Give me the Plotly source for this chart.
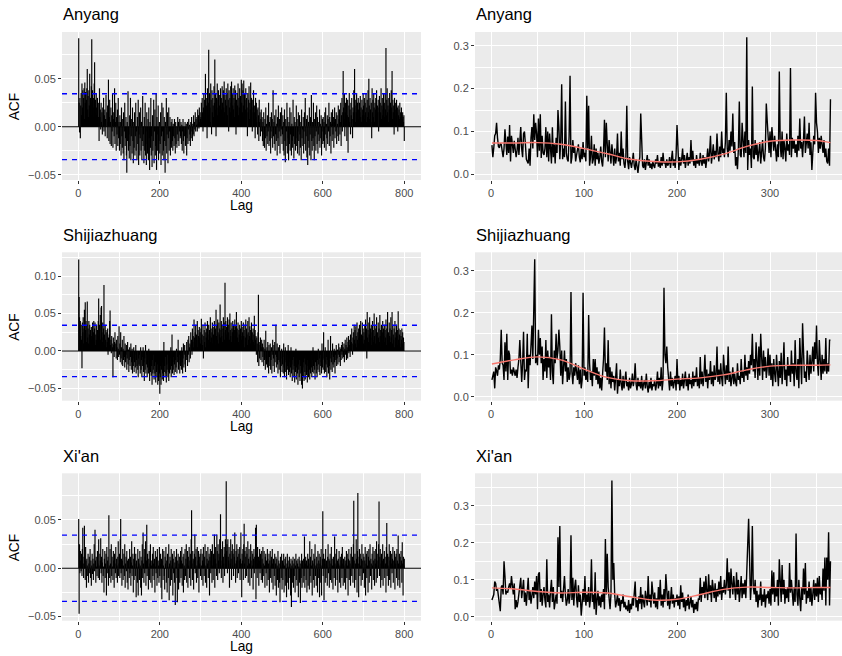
import plotly.graph_objects as go

# ---------------- data ----------------
cities = ["Anyang", "Shijiazhuang", "Xi'an"]

# ACF values for lags 1..800, in thousandths
acf_anyang_milli = [
    92, 25, -6, 30, -12, 22, 35, 12, 45, 20, 38, 15, 30, 40, 8, 46, 25, 36, 12, 28, 40, 60, 18, 32, 10, 38, 22, 55, 15, 30, 12, 42, 91, 25, 38, 10, 30, 20, 45, 67, 15, 28, 8, 35, 20, 12, 30, 5, 25, 10,
    -15, 40, 10, 18, -3, 25, 5, 15, -8, 20, 2, 30, -5, 12, 18, -10, 8, 33, 0, 15, -12, 22, 5, 49, -15, 10, 28, -18, 5, 20, -20, 12, -5, 35, -22, 8, 15, -10, 40, -18, 5, 25, -25, 10, -8, 18, -20, 30, -12, 5,
    -25, 12, -18, 5, -30, 20, -10, -22, 8, -28, 15, -35, -5, 25, -20, -12, 10, -30, -48, 5, -15, 37, -25, -8, -33, 12, -20, 30, -35, -10, 8, -28, 20, -15, -38, 5, -22, 15, -30, -10, 25, -25, -5, -35, 10, -18, 28, -40, -8, 15,
    -30, -12, 20, -25, 5, -35, -15, 32, -20, -8, -38, 10, -25, 25, -30, -5, -40, 15, -18, -28, 8, -35, 20, -12, -45, 5, -22, 30, -30, -10, -42, 12, -25, -15, 28, -38, -5, 18, -30, -20, 35, -45, 10, -25, -8, 22, -35, -15, 5, -28,
    -18, 15, -40, -10, 25, -30, -5, 20, -25, -35, 10, -15, -48, 5, -20, 30, -28, -8, 15, -38, -12, 20, -25, -5, 10, -30, -18, 5, -22, 8, -15, -25, 3, -10, -20, 8, -12, -28, 5, -18, 0, -22, -8, 10, -15, 5, -20, -5, 8, -12,
    -10, 5, -18, 2, -25, -5, 8, -15, -28, 0, -10, 5, -20, -8, 3, -30, -12, 5, -18, -3, 8, -15, 2, -8, -20, 5, -12, 10, -5, -15, 3, -8, 12, -10, 5, -3, 15, -5, 8, 2, 10, -5, 18, 3, 12, -2, 20, 5, 15, 8,
    10, 25, 5, 30, 15, -5, 20, 35, 10, 28, 18, 55, 8, 30, 22, -12, 40, 15, 25, 80, 12, 35, 20, 5, 45, 28, -8, 38, 15, 30, 22, 10, 42, 25, 70, 18, 35, -10, 30, 20, 45, 12, 28, 38, 5, 33, 22, 15, 40, 25,
    30, 18, 42, 25, 10, 38, 20, 47, 15, 33, 28, 5, 40, 22, 35, 12, 45, 28, -5, 38, 20, 30, 15, 42, 25, 47, 8, 35, 22, 40, 18, 30, 10, 43, 25, 38, -8, 28, 15, 35, 22, 45, 12, 30, 20, 40, 5, 32, 18, 49,
    25, 45, 15, 38, 22, 48, 10, 35, 28, 18, 40, 5, 30, 20, -10, 35, 15, 28, 42, 8, 25, 18, 46, 10, 30, 15, -5, 28, 20, 38, 8, 22, 15, -12, 30, 10, 25, 5, 18, -8, 20, 12, -15, 28, 5, 15, -10, 8, 18, -5,
    10, -15, 5, -20, 15, -8, -22, 8, -12, 20, -25, 3, -10, 12, -18, -5, 25, -20, 5, -15, 10, -28, -5, 15, -12, 8, -22, 38, -10, 5, -18, 12, -25, -8, 18, -15, 3, -30, 10, -12, 22, -20, -5, 8, -28, 15, -10, -3, 20, -18,
    -8, 12, -25, 5, -30, 18, -15, -37, 8, -20, -5, 25, -28, 10, -12, -35, 5, -18, 20, -25, -8, 15, -30, 3, -15, -22, 28, -10, -33, 10, -18, 5, -25, -12, 22, -20, 8, -28, -5, 15, -15, -30, 12, -8, -22, 5, -35, 18, -12, -3,
    -20, 10, -28, -5, 15, -18, 30, -25, -10, 8, -32, 12, -40, -15, 5, -22, 20, -30, -8, 10, -35, 33, -15, -25, 5, -12, 25, -20, -35, 8, -10, 15, -25, -5, 22, -18, 10, -28, -8, 5, -15, 18, -22, 3, -12, 12, -30, -5, 8, -18,
    10, -15, 5, -22, 15, -8, 20, -25, 3, -12, 12, -18, 8, -5, 25, -20, 10, -10, 5, -28, 15, 3, -15, 18, -8, 10, -22, 5, 20, -12, 8, -5, 15, -18, 12, 3, -10, 22, -15, 8, 18, -8, 5, 25, -20, 12, 30, -5, 15, 58,
    20, 8, 35, -10, 15, 25, 5, 30, -15, 12, 28, -27, 10, 22, 35, 5, 18, -8, 25, 12, 30, 8, -12, 20, 15, 38, 10, 60, 22, 5, 28, 15, 35, 12, 25, 2, 30, 18, 8, 25, 15, 32, 10, 20, 5, 28, 18, 12, 35, 22,
    12, 30, 8, 25, 15, 35, 5, 20, 28, 10, 38, 15, 50, 22, 8, 30, 18, 5, 25, -12, 40, 15, 28, 10, 35, 20, 5, 25, 18, 30, 12, 38, 8, 22, 15, 28, -5, 20, 32, 10, 25, 15, 40, 8, 22, 30, 12, 18, 35, 20,
    25, 10, 35, 18, 82, 12, 28, 40, 15, 22, 5, 30, 18, 35, 10, 25, 15, 38, 20, 58, 8, 28, 15, 22, -8, 30, 12, 25, 18, 5, 28, 15, 20, -5, 22, 12, 18, 8, 25, 10, 15, 5, 20, 12, 8, 15, 10, 5, 12, -15,
]

acf_shijiazhuang_milli = [
    122, 72, 45, 30, 40, 20, 35, 15, -23, 38, 25, 45, 10, 30, 55, 20, 65, 28, 40, 12, 35, 66, 18, 30, 10, 40, 22, 35, 8, 28, 15, 32, 20, 5, 38, 18, 25, 40, 12, 30, 38, 8, 22, 15, 35, 10, 28, 18, 40, 70,
    20, 35, 10, 48, 15, 58, 60, 25, 12, 38, 18, 30, 88, 22, 8, 35, 15, 28, 5, 25, 12, 30, -5, 18, 10, 22, 40, 54, 8, 15, -3, 20, 10, 5, -35, 18, 8, -8, 12, 25, 0, 10, -10, 15, 5, -12, 20, 3, -8, 33,
    -5, 10, -15, 25, -10, 5, -18, 15, -20, 3, -12, 20, -8, -22, 10, -15, -5, 8, -25, -10, 12, -18, 2, -28, -12, 5, -20, -8, 10, -25, -15, 3, -30, -10, -20, 5, -28, -15, -5, -22, 8, -30, -12, -20, 0, -25, -35, -10, -18, -5,
    -20, -30, 5, -25, -12, -35, -8, -20, 5, -28, -15, -40, -10, -25, 8, -30, -18, -5, -35, -22, -12, -30, 3, -25, -40, -15, -28, -8, -33, -20, -45, -12, -30, -25, -5, -38, -20, -30, -15, -42, -10, -28, -35, -18, -45, -25, -40, -15, -30, -57,
    -35, -20, -45, -25, -10, -38, -30, -15, -40, 12, -28, -20, -35, -8, -30, -42, -18, -25, -5, -35, -28, -40, -15, -30, -10, -25, 5, -35, -20, 22, -30, -15, -25, -8, -32, -18, -5, -28, -12, -22, 3, -30, -15, -8, 15, -25, -18, -5, -30, -12,
    -20, -8, -25, 5, -15, -30, -10, 10, -22, -5, 8, -18, -28, 0, -12, 12, -8, -20, 15, -5, 20, -15, 5, 10, -10, 25, 8, 15, -5, 30, 12, 20, 5, 42, 18, 10, 25, 35, 8, 22, 15, 40, 5, 28, 20, 12, 32, 18, 25, 10,
    30, 43, 15, 22, 8, 35, -10, 20, 28, 12, 38, 5, 25, 18, 30, 10, 40, 22, 15, 35, 8, 28, 20, 45, 12, 30, 18, 25, 38, 10, 32, 22, 15, 40, 28, 8, 30, 55, 20, 35, 15, 42, 25, 10, 38, 22, 30, 62, 18, 28,
    40, 20, 35, 12, 30, 45, 25, 38, 15, 91, 28, 40, 18, 32, 22, 45, 10, 35, 25, 42, 15, 50, 28, 20, 38, 12, 30, 25, 40, 18, 35, 10, 28, 42, 20, 33, 15, 52, 25, 30, 18, 38, 12, 28, 22, 35, 8, 30, 20, 40,
    15, 32, 25, 10, 38, 20, 28, 5, 35, 18, 42, 12, 30, 22, 8, 40, 25, 15, 45, 20, 33, 10, 28, 18, 38, 5, 25, 15, 30, 12, 22, 47, 8, 28, 15, 20, -5, 18, 10, -15, 25, 75, -20, 12, -10, 8, 18, -12, 5, 15,
    -15, 10, -8, 5, -20, 15, -12, 3, -25, 27, -10, -18, 5, -22, 12, -15, -30, 8, -8, -20, 10, -25, -12, 5, -30, -5, 15, -20, -10, 8, -28, 12, -15, -5, 35, -22, -8, 10, -18, -30, 5, -12, -25, 8, -15, -35, -10, -20, 3, -28,
    -18, -8, -30, 10, -22, -35, -12, 5, -28, -15, -38, -5, -25, -20, 8, -32, -15, -28, -10, -35, -22, 5, -30, -18, -40, -12, -25, -8, -35, -20, -42, -15, -28, 3, -38, -22, -10, -30, -45, -18, -25, -35, -12, -40, -20, -30, -8, -45, -28, -50,
    -22, -35, -15, -40, -10, -28, -38, -18, -5, -32, -20, -42, -12, -28, -35, -8, -25, -38, -15, -30, -5, -22, -35, -12, -28, 5, -20, -30, -10, -25, -38, -15, -8, -30, -20, -35, -12, -25, 3, -18, -28, -10, -32, -5, -20, -15, -30, 10, -22, -12,
    -25, 25, -10, -30, -15, 5, -28, -18, -8, -35, -12, -22, 15, -30, -5, -20, -38, -10, 20, -25, -15, -5, -28, 10, -18, -8, -22, 3, -15, -30, -5, -12, 8, -20, -10, 2, -18, -5, 10, -15, -8, 5, -20, 3, -12, 8, -5, 12, -10, 5,
    -8, 10, -15, 3, 15, -5, 8, -12, 18, 5, -10, 12, 20, -3, 8, 15, -8, 22, 5, 12, 30, 10, -5, 18, 25, 8, 35, 15, 28, 10, 33, 20, 5, 38, 15, 25, 10, 30, 18, 35, 8, 28, 40, 15, 22, 12, 38, 20, 30, 10,
    25, 15, 35, 8, 42, 20, 30, -10, 52, 18, 28, 12, 38, 22, 45, 10, 30, 18, 35, 8, 25, 40, 15, 28, 12, 50, 20, 35, 10, 30, 22, 45, 15, 25, 8, 38, 18, 30, 12, 48, 20, 28, 5, 35, 15, 25, 40, 10, 30, 20,
    35, 12, 28, 18, 42, 8, 30, 22, 52, 15, 25, 10, 38, 20, 30, 12, 45, 18, 28, 52, 10, 35, 22, 15, 30, 5, 40, 18, 25, 12, 35, 20, 28, 8, 53, 15, 30, 22, 10, 28, 5, 20, 15, 30, 10, 25, 8, 18, 12, 0,
]

acf_xian_milli = [
    51, -47, 25, -5, 18, 8, -3, 15, -8, 20, 42, 5, -10, 12, 44, 2, -12, 22, 8, -20, 10, 3, -8, 15, -15, 5, 12, -5, 20, -10, 8, -18, 3, 15, -6, 10, -12, 5, 25, -3, 40, 8, -15, 12, 2, -8, 18, 5, -10, 30,
    3, -12, 15, 8, 31, -5, 12, -15, 6, 20, -8, 2, -25, 10, 18, -10, 5, 15, -28, 22, -5, 8, 12, -18, 55, 3, -10, 20, 5, -15, 25, -8, 12, 2, -12, 18, 8, -20, 15, 5, -5, 22, -10, 10, 3, -15, 12, 28, -8, 5,
    15, -10, 30, 51, -5, 10, -18, 8, 20, -12, 3, 15, -8, 25, -20, 5, 12, -3, 18, -15, 8, -22, 10, 2, -10, 20, -5, 12, -18, 6, 28, -8, 3, 15, -25, 10, -12, 22, 5, -8, 15, -30, 8, 2, -15, 20, -28, 10, 5, -12,
    18, 3, -20, 12, -28, 8, 25, -10, 37, 5, -15, 20, -5, 12, 28, -18, 8, 45, -8, 15, 2, -22, 10, 18, -12, 5, 25, -15, 8, 3, -20, 15, -8, 22, 5, -12, 10, -25, 18, 2, -5, 12, -18, 20, -10, 8, 3, -15, 22, -8,
    5, 15, -20, 10, -32, 8, 20, -12, 3, 18, -8, -22, 12, 5, 22, -15, 8, -25, 15, 2, -10, 25, -33, 5, 12, -18, 8, 20, -12, 3, 15, -28, 10, -5, 18, -15, 6, -38, 12, 2, 20, -10, -35, 8, 15, -22, 5, 12, -15, 3,
    18, -10, 8, 22, -18, 5, 12, -25, 15, 3, -12, 20, -8, 10, 25, -15, 5, 18, -20, 12, 3, 22, -10, 8, 15, -18, 30, 60, 5, -12, 18, 10, -22, 8, 15, 35, -5, 12, 20, -15, 3, 22, -10, 8, 18, -25, 12, 5, 15, -8,
    20, 3, -12, 15, 8, -18, 22, 5, -8, 12, 25, -15, 3, 18, -20, 10, 5, 22, -10, 8, 15, -28, 12, 20, -5, 8, 18, -15, 25, 3, -12, 15, 8, 35, -20, 10, 22, 5, -8, 35, 18, -12, 25, 8, 15, -5, 30, 12, 56, 3,
    -10, 20, 8, 28, -15, 12, 5, 22, -8, 15, 30, 10, 90, 18, 25, -5, 30, 12, 8, 22, -20, 15, 5, 30, 10, -12, 18, 25, 3, 15, -8, 20, 12, 37, 5, -15, 18, 8, 25, -10, 12, 20, -5, 15, 8, 22, -12, 10, 37, 5,
    -30, 15, 8, 20, -12, 25, 46, 5, 18, -10, 12, 22, -8, 15, 3, 28, -15, 10, 20, 5, -18, 12, 25, 8, -10, 18, 3, 15, -22, 10, 20, -5, 12, 8, 42, -32, 45, 15, -10, 22, 5, 12, -18, 8, 20, -5, 15, 3, -12, 18,
    10, -15, 22, 5, -8, 18, 3, -20, 12, 15, -5, 8, -18, 20, 10, -12, 5, 15, -25, 8, 18, -10, 3, 12, -15, 20, 5, -22, 10, 8, -8, 15, -18, 5, 12, -28, 10, 3, -12, 18, -20, 8, 5, -15, -35, 12, 3, -10, 15, -22,
    8, -12, 5, 15, -25, 3, 10, -18, 12, -8, -30, 5, 15, -15, 8, -22, 2, 12, -10, 5, -28, 10, -40, 3, 8, -15, 12, -20, 5, -8, 10, -25, 3, 15, -12, 8, -18, 5, 10, -30, 2, 12, -15, 8, -36, 5, -10, 15, -20, 8,
    3, -15, 10, -8, 33, -20, 5, 12, -12, 8, -25, 3, 15, -18, 10, 5, -22, 28, -8, 12, -15, 3, 20, -28, 8, 5, -12, 15, -20, 10, 25, -8, 3, -18, 12, 5, -25, 18, -10, 8, 15, -30, 5, 12, -15, 20, -28, 3, 10, 59,
    -8, 15, -33, 10, 5, -15, 20, -10, 8, 3, -18, 12, 25, -5, 10, -20, 8, 15, -12, 5, 22, -15, 10, 3, -22, 12, 8, -10, 33, 5, -18, 15, 3, 20, -12, 8, -25, 10, 5, 18, -15, 3, 12, -20, 8, 15, -10, 22, 5, -18,
    10, 3, -15, 12, 8, -22, 5, 18, -10, 15, 3, -28, 10, 20, -12, 8, 5, -18, 15, 22, -8, 3, 12, -15, 25, 70, 8, -20, 15, 5, -12, 30, 10, -25, 18, 78, 5, -30, 12, 20, -8, 15, 3, -18, 10, 25, -12, 8, 15, -5,
    12, -20, 8, 22, -28, 5, 15, -10, 18, 3, -25, 12, 20, -15, 8, 25, -8, 10, 5, -22, 15, 3, 22, -12, 8, 18, -18, 10, 5, 20, -15, 28, 8, -10, 15, 3, 25, 69, -8, 12, 20, -20, 5, 15, -12, 8, 25, -18, 10, 3,
    18, -10, 12, 5, -25, 22, 47, -8, 15, 3, -18, 12, 25, -12, 8, 18, -20, 5, 15, -5, 10, 22, -15, 8, 3, 18, -22, 12, 5, 15, -10, 20, 8, -18, 34, 5, -12, 15, -20, 12, 3, 18, 8, -15, 27, 5, -28, 12, 3, 10,
]

ci_bound = 0.0343  # blue dashed significance bounds

# daily series (day 1..365), in thousandths
ts_anyang_milli = [
    68, 40, 62, 90, 95, 120, 85, 65, 62, 72, 70, 55, 40, 60, 105, 75, 45, 88, 50, 115, 30, 90, 72, 50, 78,
    60, 40, 55, 85, 45, 75, 110, 60, 40, 95, 100, 70, 35, 30, 25, 60, 20, 85, 110, 60, 140, 80, 120, 95, 40,
    130, 55, 140, 38, 90, 50, 45, 60, 110, 40, 100, 30, 95, 60, 25, 110, 40, 70, 25, 85, 50, 150, 110, 35, 80,
    210, 35, 60, 40, 170, 50, 35, 30, 90, 230, 25, 40, 80, 50, 65, 30, 45, 55, 70, 40, 28, 60, 35, 75, 40,
    50, 30, 183, 60, 160, 20, 40, 90, 25, 35, 70, 20, 60, 35, 50, 25, 40, 65, 30, 18, 55, 127, 40, 120, 70,
    30, 80, 40, 25, 70, 45, 20, 60, 25, 40, 95, 30, 50, 20, 100, 35, 60, 25, 15, 40, 160, 30, 12, 40, 25,
    15, 30, 50, 20, 10, 35, 15, 3, 25, 40, 142, 60, 20, 15, 35, 10, 25, 45, 20, 35, 15, 25, 12, 30, 20,
    15, 35, 25, 45, 18, 30, 15, 40, 20, 50, 25, 30, 15, 35, 20, 25, 40, 15, 30, 55, 20, 35, 15, 45, 115,
    30, 10, 40, 20, 35, 60, 25, 45, 15, 30, 50, 20, 40, 25, 80, 30, 55, 20, 35, 15, 45, 25, 35, 20, 50,
    30, 20, 45, 25, 40, 15, 35, 60, 30, 50, 90, 25, 45, 70, 35, 55, 40, 95, 50, 30, 65, 40, 100, 50, 60,
    40, 75, 190, 60, 40, 80, 55, 100, 65, 142, 50, 75, 20, 40, 12, 60, 170, 45, 40, 120, 60, 40, 100, 50, 320,
    10, 80, 45, 60, 15, 205, 40, 35, 80, 45, 70, 30, 50, 75, 25, 65, 80, 40, 30, 60, 165, 125, 85, 50, 100,
    40, 110, 70, 55, 90, 45, 30, 70, 40, 240, 70, 40, 100, 35, 80, 60, 30, 95, 55, 70, 45, 248, 40, 85, 60,
    80, 50, 70, 40, 90, 55, 130, 60, 75, 40, 80, 135, 50, 70, 95, 60, 120, 45, 75, 10, 55, 90, 70, 190, 120,
    100, 50, 85, 60, 90, 70, 50, 80, 40, 60, 30, 25, 60, 20, 175,
]

ts_shijiazhuang_milli = [
    40, 55, 60, 20, 70, 62, 50, 75, 65, 90, 160, 80, 75, 40, 130, 60, 150, 40, 110, 100, 55, 65, 50, 70, 60,
    50, 65, 45, 70, 90, 135, 60, 35, 80, 155, 40, 65, 60, 150, 20, 100, 75, 110, 170, 90, 180, 328, 80, 100, 75,
    160, 100, 140, 80, 120, 40, 90, 60, 135, 45, 110, 70, 95, 40, 197, 60, 30, 110, 80, 150, 90, 110, 160, 120, 50,
    110, 30, 70, 110, 60, 90, 35, 70, 40, 55, 250, 60, 30, 70, 50, 80, 60, 40, 75, 30, 65, 20, 40, 248, 50,
    70, 40, 60, 35, 195, 80, 40, 60, 25, 90, 50, 90, 40, 70, 30, 60, 20, 45, 15, 55, 90, 165, 60, 80, 40,
    135, 30, 70, 20, 60, 35, 50, 15, 45, 80, 7, 40, 25, 65, 30, 15, 50, 20, 40, 60, 25, 35, 15, 45, 20,
    30, 55, 25, 40, 80, 30, 15, 45, 25, 35, 20, 50, 15, 30, 40, 20, 55, 25, 10, 35, 20, 45, 15, 30, 25,
    40, 15, 30, 60, 20, 45, 25, 70, 15, 40, 260, 100, 80, 120, 70, 40, 15, 60, 25, 45, 20, 35, 50, 15, 90,
    30, 50, 15, 40, 25, 55, 20, 35, 60, 25, 45, 15, 55, 30, 40, 20, 60, 25, 50, 35, 70, 25, 45, 20, 95,
    30, 60, 25, 50, 100, 35, 65, 20, 55, 40, 85, 30, 60, 25, 75, 40, 50, 120, 35, 65, 30, 80, 45, 25, 100,
    55, 30, 75, 40, 120, 35, 60, 25, 45, 70, 30, 55, 35, 25, 80, 40, 50, 30, 90, 45, 60, 35, 100, 50, 70,
    40, 85, 55, 100, 75, 150, 60, 90, 45, 130, 70, 40, 120, 50, 150, 80, 40, 110, 60, 95, 45, 70, 115, 50, 100,
    40, 80, 25, 90, 55, 35, 100, 60, 25, 85, 45, 105, 30, 70, 130, 40, 65, 25, 95, 50, 75, 35, 110, 55, 80,
    25, 135, 60, 40, 90, 20, 140, 70, 30, 175, 80, 45, 60, 35, 110, 70, 40, 100, 55, 85, 120, 60, 130, 90, 170,
    80, 50, 135, 60, 40, 100, 55, 90, 60, 140, 55, 80, 60, 135, 135,
]

ts_xian_milli = [
    45, 55, 60, 95, 90, 70, 75, 55, 40, 15, 80, 85, 60, 150, 110, 60, 70, 65, 80, 90, 75, 110, 85, 60, 90,
    20, 45, 25, 40, 60, 80, 105, 50, 75, 100, 40, 65, 30, 90, 105, 45, 70, 35, 60, 80, 50, 95, 60, 110, 20,
    115, 120, 40, 75, 30, 60, 80, 45, 25, 155, 40, 60, 25, 70, 100, 40, 80, 20, 45, 60, 35, 215, 80, 245, 50,
    70, 40, 90, 110, 60, 30, 45, 75, 35, 60, 220, 45, 105, 30, 80, 100, 50, 25, 85, 40, 60, 3, 35, 75, 40,
    110, 30, 60, 40, 80, 25, 50, 155, 40, 60, 20, 120, 5, 45, 70, 30, 55, 25, 60, 40, 75, 20, 210, 60, 170,
    80, 40, 20, 60, 368, 100, 145, 60, 25, 40, 60, 30, 50, 15, 45, 35, 60, 25, 40, 20, 30, 15, 45, 10, 35,
    20, 50, 30, 60, 95, 25, 45, 15, 55, 35, 80, 20, 60, 40, 25, 70, 45, 30, 110, 40, 60, 25, 95, 50, 35,
    65, 25, 50, 20, 80, 45, 100, 30, 60, 25, 75, 40, 115, 55, 30, 70, 20, 45, 80, 35, 60, 25, 50, 40, 60,
    30, 55, 20, 85, 40, 65, 25, 50, 15, 45, 30, 60, 20, 40, 55, 25, 45, 10, 35, 20, 40, 15, 50, 45, 105,
    40, 80, 60, 95, 50, 110, 70, 45, 115, 60, 85, 40, 100, 65, 50, 90, 40, 75, 55, 95, 60, 110, 45, 80, 65,
    100, 60, 85, 158, 70, 120, 50, 130, 90, 60, 110, 80, 45, 120, 60, 100, 40, 70, 110, 50, 90, 60, 100, 50, 120,
    180, 265, 160, 45, 90, 245, 80, 60, 100, 40, 70, 25, 60, 45, 95, 30, 60, 40, 75, 25, 60, 50, 70, 35, 75,
    30, 125, 60, 120, 40, 80, 55, 100, 30, 155, 70, 40, 140, 60, 100, 35, 75, 50, 80, 40, 145, 65, 100, 55, 30,
    80, 40, 225, 60, 30, 100, 50, 15, 80, 45, 130, 60, 145, 35, 70, 50, 95, 40, 80, 30, 60, 100, 45, 90, 55,
    105, 40, 110, 60, 80, 45, 130, 70, 160, 30, 160, 100, 228, 30, 150,
]

# smoothed trend (red curve), read at these days
smooth_days = [1, 25, 50, 75, 100, 125, 150, 175, 200, 225, 250, 275, 300, 325, 350, 365]
smooth_anyang = [0.073, 0.073, 0.074, 0.070, 0.060, 0.048, 0.035, 0.030, 0.029, 0.035, 0.047, 0.065, 0.077, 0.080, 0.079, 0.074]
smooth_shijiazhuang = [0.078, 0.088, 0.095, 0.088, 0.066, 0.046, 0.038, 0.038, 0.042, 0.045, 0.052, 0.064, 0.073, 0.075, 0.075, 0.076]
smooth_xian = [0.078, 0.075, 0.068, 0.064, 0.066, 0.064, 0.054, 0.045, 0.047, 0.060, 0.074, 0.080, 0.079, 0.078, 0.079, 0.079]

acf_ticks = [[-0.05, 0.0, 0.05], [-0.05, 0.0, 0.05, 0.10], [-0.05, 0.0, 0.05]]
acf_tick_text = [["\u22120.05", "0.00", "0.05"], ["\u22120.05", "0.00", "0.05", "0.10"], ["\u22120.05", "0.00", "0.05"]]
acf_minor = [[-0.025, 0.025, 0.075], [-0.025, 0.025, 0.075, 0.125], [-0.025, 0.025, 0.075]]
ts_ticks = [0.0, 0.1, 0.2, 0.3]
ts_tick_text = ["0.0", "0.1", "0.2", "0.3"]
ts_minor = [[0.05, 0.15, 0.25], [0.05, 0.15, 0.25], [0.05, 0.15, 0.25, 0.35]]
lag_ticks = [0, 200, 400, 600, 800]
lag_minor = [100, 300, 500, 700]
day_ticks = [0, 100, 200, 300]
day_minor = [50, 150, 250, 350]

# ---------------- layout geometry (pixels) ----------------
W, H = 842, 656
FONT = "Liberation Sans, Arial, Helvetica, sans-serif"
TICK_GREY = "#4D4D4D"
rows_px = [(32.0, 180.0), (252.3, 400.7), (473.3, 620.7)]
left_px = (62.0, 421.0)
right_px = (475.0, 842.0)
acf_yrange = [(-0.0555, 0.0986), (-0.0663, 0.1316), (-0.0542, 0.0983)]
ts_yrange = [(-0.0133, 0.332), (-0.0095, 0.3446), (-0.0108, 0.3876)]
lag_range = [-40, 841]
day_range = [-17.2, 377.4]


def fx(p):
    return p / W


def fy(p):
    return 1 - p / H


acf_all = [acf_anyang_milli, acf_shijiazhuang_milli, acf_xian_milli]
ts_all = [ts_anyang_milli, ts_shijiazhuang_milli, ts_xian_milli]
smooth_all = [smooth_anyang, smooth_shijiazhuang, smooth_xian]

fig = go.Figure()
layout = dict(
    template="none",
    width=W, height=H, autosize=False,
    margin=dict(l=0, r=0, t=0, b=0, pad=0),
    paper_bgcolor="white", plot_bgcolor="#EBEBEB",
    showlegend=False,
    font=dict(family=FONT, color="#000000"),
)
shapes = []
annotations = []


def axis_base():
    return dict(
        showgrid=True, gridcolor="white", gridwidth=1.3,
        zeroline=False, showline=False,
        color=TICK_GREY,
        ticks="outside", ticklen=3, tickwidth=1.1, tickcolor="#333333",
        tickfont=dict(family=FONT, size=11, color=TICK_GREY),
        fixedrange=True,
    )


for i, city in enumerate(cities):
    top, bot = rows_px[i]
    ydom = [fy(bot), fy(top)]
    # ---- left: ACF ----
    na = i + 1
    vals = acf_all[i]
    lags = list(range(1, len(vals) + 1))
    xs, ys = [], []
    for lag, v in zip(lags, vals):
        xs += [lag, lag, None]
        ys += [0.0, v / 1000.0, None]
    fig.add_trace(go.Scatter(x=xs, y=ys, mode="lines",
                             line=dict(color="black", width=1.15),
                             xaxis=f"x{na}", yaxis=f"y{na}", hoverinfo="skip"))
    xa = axis_base()
    xa.update(domain=[fx(left_px[0]), fx(left_px[1])], range=lag_range, anchor=f"y{na}",
              tickmode="array", tickvals=lag_ticks, ticktext=[str(t) for t in lag_ticks],
              minor=dict(tickmode="array", tickvals=lag_minor, showgrid=True,
                         gridcolor="white", gridwidth=0.65, ticks=""))
    ya = axis_base()
    ya.update(domain=ydom, range=list(acf_yrange[i]), anchor=f"x{na}",
              tickmode="array", tickvals=acf_ticks[i], ticktext=acf_tick_text[i],
              minor=dict(tickmode="array", tickvals=acf_minor[i], showgrid=True,
                         gridcolor="white", gridwidth=0.65, ticks=""))
    layout[f"xaxis{na}" if na > 1 else "xaxis"] = xa
    layout[f"yaxis{na}" if na > 1 else "yaxis"] = ya
    xref_dom = f"x{na} domain" if na > 1 else "x domain"
    yref = f"y{na}" if na > 1 else "y"
    shapes.append(dict(type="line", xref=xref_dom, yref=yref, x0=0, x1=1, y0=0, y1=0,
                       line=dict(color="black", width=1.1), layer="above"))
    for s in (ci_bound, -ci_bound):
        shapes.append(dict(type="line", xref=xref_dom, yref=yref, x0=0, x1=1, y0=s, y1=s,
                           line=dict(color="blue", width=1.3, dash="5px,5px"), layer="above"))

    # ---- right: daily series ----
    nb = i + 4
    tvals = ts_all[i]
    days = list(range(1, len(tvals) + 1))
    fig.add_trace(go.Scatter(x=days, y=[v / 1000.0 for v in tvals], mode="lines",
                             line=dict(color="black", width=1.4),
                             xaxis=f"x{nb}", yaxis=f"y{nb}", hoverinfo="skip"))
    fig.add_trace(go.Scatter(x=smooth_days, y=smooth_all[i], mode="lines",
                             line=dict(color="#F8766D", width=1.4, shape="spline", smoothing=1.0),
                             xaxis=f"x{nb}", yaxis=f"y{nb}", hoverinfo="skip"))
    xb = axis_base()
    xb.update(domain=[fx(right_px[0]), fx(right_px[1])], range=day_range, anchor=f"y{nb}",
              tickmode="array", tickvals=day_ticks, ticktext=[str(t) for t in day_ticks],
              minor=dict(tickmode="array", tickvals=day_minor, showgrid=True,
                         gridcolor="white", gridwidth=0.65, ticks=""))
    yb = axis_base()
    yb.update(domain=ydom, range=list(ts_yrange[i]), anchor=f"x{nb}",
              tickmode="array", tickvals=ts_ticks, ticktext=ts_tick_text,
              minor=dict(tickmode="array", tickvals=ts_minor[i], showgrid=True,
                         gridcolor="white", gridwidth=0.65, ticks=""))
    layout[f"xaxis{nb}"] = xb
    layout[f"yaxis{nb}"] = yb

    # ---- text ----
    for xl in (left_px[0], right_px[0]):
        annotations.append(dict(text=city, xref="paper", yref="paper",
                                x=fx(xl - 1), y=fy(top - 17.5), xanchor="left", yanchor="middle",
                                showarrow=False, font=dict(family=FONT, size=16.5, color="black")))
    annotations.append(dict(text="ACF", xref="paper", yref="paper", textangle=-90,
                            x=fx(14.3), y=fy((top + bot) / 2), xanchor="center", yanchor="middle",
                            showarrow=False, font=dict(family=FONT, size=13.75, color="black")))
    annotations.append(dict(text="Lag", xref="paper", yref="paper",
                            x=fx((left_px[0] + left_px[1]) / 2), y=fy(bot + 26),
                            xanchor="center", yanchor="middle",
                            showarrow=False, font=dict(family=FONT, size=13.75, color="black")))

layout["shapes"] = shapes
layout["annotations"] = annotations
fig.update_layout(**layout)
fig.write_html("out.html", config={"displayModeBar": False})

# remove the browser's default 8px page margin so the figure sits at (0, 0)
with open("out.html", "r", encoding="utf-8") as fh:
    page = fh.read()
page = page.replace("<head>", "<head><style>html,body{margin:0;padding:0;overflow:hidden;}</style>", 1)
with open("out.html", "w", encoding="utf-8") as fh:
    fh.write(page)
